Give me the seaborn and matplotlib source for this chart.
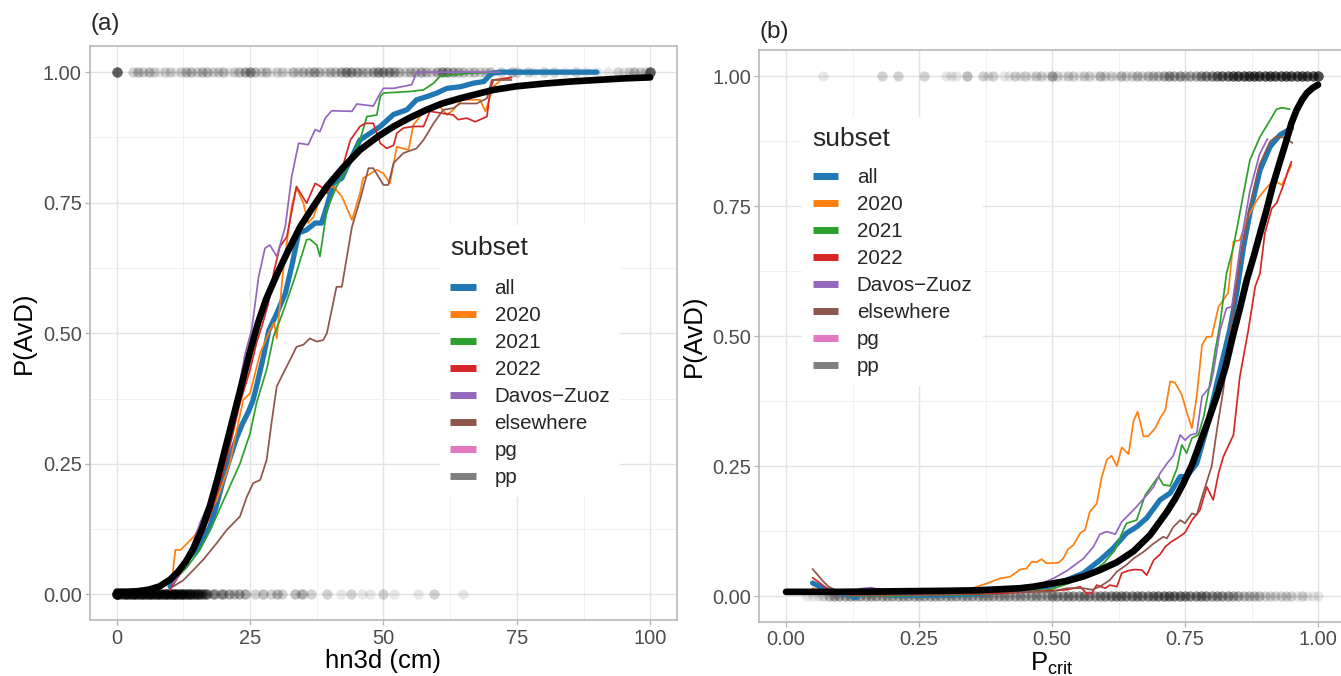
import numpy as np
import pandas as pd
import matplotlib
matplotlib.use("Agg")
import matplotlib.pyplot as plt
from matplotlib.lines import Line2D
from matplotlib.ticker import FixedLocator
import seaborn as sns

# --- legend / colours ---
subsets = ["all", "2020", "2021", "2022", "Davos\u2212Zuoz", "elsewhere", "pg", "pp"]
subset_colors = ["#1f77b4", "#ff7f0e", "#2ca02c", "#d62728", "#9467bd", "#8c564b", "#e377c2", "#7f7f7f"]

# --- panel (a): hn3d (cm) ---
hn_all_x = [10, 10.9, 12, 13.1, 14, 15, 16.2, 17.5, 18.7, 20, 21.2, 22.5, 23.5, 24.7, 25.5, 26.2, 27.5, 28.5,
            30, 31.6, 32.8, 34.1, 35.6, 37.2, 38.4, 39.4, 40.6, 42.2, 43.8, 45.6, 47.5, 49.4, 51.9, 54.4,
            56.2, 58.1, 60, 61.9, 64.4, 66.9, 68.8, 70.3, 72, 80, 90]
hn_all_y = [0.015, 0.034, 0.05, 0.066, 0.075, 0.085, 0.105, 0.13, 0.17, 0.22, 0.26, 0.30, 0.325, 0.35, 0.37,
            0.398, 0.455, 0.505, 0.538, 0.576, 0.628, 0.692, 0.698, 0.711, 0.711, 0.743, 0.787, 0.797, 0.832,
            0.87, 0.883, 0.896, 0.919, 0.928, 0.947, 0.953, 0.96, 0.969, 0.972, 0.979, 0.982, 0.998, 1.0, 1.0, 1.0]

hn_2020_x = [10.5, 11, 12, 14.4, 16.2, 18.75, 21.2, 23.7, 25, 26.9, 28.75, 29.5, 30, 31.2, 32.8, 33.7, 35, 35.9,
             36.9, 38.7, 40.6, 42.2, 44.1, 45.6, 46.2, 48.75, 50, 51.2, 52.5, 54.7, 55.6, 58.1, 60.6, 61.9,
             63.1, 64.7, 68.1, 69.1, 70.6, 72, 74]
hn_2020_y = [0.04, 0.085, 0.085, 0.11, 0.136, 0.18, 0.25, 0.372, 0.385, 0.462, 0.506, 0.52, 0.49, 0.62, 0.743,
             0.778, 0.749, 0.711, 0.723, 0.775, 0.781, 0.762, 0.717, 0.768, 0.797, 0.813, 0.806, 0.787, 0.857,
             0.851, 0.899, 0.931, 0.934, 0.918, 0.928, 0.947, 0.947, 0.925, 0.972, 0.985, 0.99]

hn_2021_x = [10.6, 13.1, 15.6, 18.1, 20.6, 23.1, 25, 26.2, 28.1, 29.4, 30.6, 32, 33.5, 34.4, 35.6, 36.2, 37.5,
             38.1, 39.4, 41.2, 43.1, 45.6, 46.9, 48.75, 49.4, 50, 55, 57.5, 59.4, 60.6, 66.2, 72]
hn_2021_y = [0.025, 0.051, 0.085, 0.136, 0.193, 0.25, 0.308, 0.366, 0.43, 0.494, 0.525, 0.565, 0.61, 0.64, 0.679,
             0.68, 0.669, 0.647, 0.736, 0.781, 0.813, 0.87, 0.915, 0.918, 0.953, 0.96, 0.963, 0.966, 0.979,
             0.992, 0.998, 1.0]

hn_2022_x = [10, 11.9, 13, 15, 17.5, 19.4, 21.2, 23.1, 25, 26.2, 27.2, 28.5, 29.5, 30.6, 31.9, 33.7, 35.6, 37.2,
             38.7, 39.4, 40.6, 42.2, 43.8, 45.6, 46.6, 48.1, 49.4, 50.6, 51.9, 52.5, 53.75, 55.6, 57.5, 58.7,
             61.2, 63.1, 64, 65.6, 67.2, 68.75, 69.4, 70, 70.6, 74]
hn_2022_y = [0.008, 0.04, 0.06, 0.091, 0.15, 0.213, 0.283, 0.366, 0.43, 0.481, 0.513, 0.56, 0.62, 0.666, 0.685,
             0.781, 0.749, 0.787, 0.778, 0.768, 0.80, 0.813, 0.87, 0.896, 0.902, 0.902, 0.864, 0.854, 0.86,
             0.883, 0.893, 0.896, 0.896, 0.925, 0.921, 0.918, 0.909, 0.912, 0.905, 0.912, 0.915, 0.966, 0.985, 0.99]

hn_davos_x = [10.6, 12.5, 14, 15.6, 17.5, 19.4, 21.2, 22.5, 24.1, 25.3, 26.6, 27.8, 28.7, 30, 31.6, 32.8, 34.1,
              35.9, 37.2, 38.1, 39.1, 40.3, 44.1, 45, 48.1, 49.4, 50, 51.9, 55.3, 56.2, 72]
hn_davos_y = [0.021, 0.05, 0.09, 0.136, 0.18, 0.25, 0.315, 0.375, 0.462, 0.506, 0.608, 0.663, 0.669, 0.647,
              0.704, 0.80, 0.864, 0.861, 0.89, 0.886, 0.912, 0.926, 0.925, 0.939, 0.935, 0.96, 0.969, 0.969,
              0.976, 1.0, 1.0]

hn_else_x = [10.6, 12.5, 14.4, 16.2, 18.75, 20.6, 23.1, 24.4, 25.6, 26.9, 28.1, 29.1, 30, 31.2, 32.5, 33.7, 35,
             36.2, 37.5, 38.7, 39.4, 41.2, 42.2, 44.1, 45.6, 47.2, 48.1, 50, 50.9, 51.9, 53.75, 56.2, 57.5,
             59.4, 61.2, 63.1, 64.4, 67.5, 69.4, 70.3, 74]
hn_else_y = [0.015, 0.027, 0.047, 0.066, 0.098, 0.123, 0.149, 0.187, 0.213, 0.219, 0.257, 0.334, 0.398, 0.423,
             0.449, 0.474, 0.478, 0.49, 0.484, 0.487, 0.50, 0.589, 0.589, 0.704, 0.755, 0.816, 0.816, 0.784,
             0.784, 0.826, 0.845, 0.854, 0.87, 0.902, 0.928, 0.931, 0.94, 0.94, 0.95, 0.985, 0.985]

hn_fit_x = [0, 2, 4, 6, 8, 10, 11.5, 13, 14.5, 16, 17.5, 19, 20.5, 22, 23.5, 25, 26.5, 28, 30, 32, 34.4, 37,
            39.4, 42.5, 45.6, 49, 51.9, 55, 58.1, 61, 64.4, 67.5, 70.6, 75, 80, 85, 90, 95, 100]
hn_fit_y = [0.005, 0.005, 0.006, 0.009, 0.015, 0.028, 0.043, 0.063, 0.09, 0.125, 0.17, 0.225, 0.285, 0.345,
            0.405, 0.465, 0.52, 0.565, 0.612, 0.655, 0.704, 0.745, 0.781, 0.818, 0.851, 0.877, 0.896, 0.913,
            0.928, 0.94, 0.95, 0.958, 0.966, 0.973, 0.978, 0.982, 0.985, 0.988, 0.99]

# observed outcomes (x positions and how many overlapping points)
hn_av_x = [0, 3, 4, 5, 6, 7, 8, 9, 10, 11, 12, 13, 14, 15, 16, 17, 18, 19, 20, 21, 22, 23, 24, 25, 26, 27, 28,
           29, 30, 31, 32, 33, 34, 35, 36, 37, 38, 39, 40, 41, 42, 43, 44, 45, 46, 47, 48, 49, 50, 51, 52, 53,
           54, 55, 56, 57, 58, 59, 60, 61, 62, 63, 64, 65, 66, 67, 68, 69, 70, 72, 74, 75, 77, 78, 80, 82, 84,
           86, 88, 90, 92, 94, 95, 96, 97, 98, 99, 100]
hn_av_n = [10, 2, 3, 2, 3, 2, 1, 2, 2, 1, 2, 3, 3, 2, 3, 3, 2, 2, 3, 1, 2, 3, 4, 5, 3, 2, 3,
           1, 2, 2, 1, 3, 2, 3, 3, 4, 3, 2, 3, 3, 4, 5, 5, 4, 3, 3, 4, 5, 5, 5, 4, 3,
           2, 3, 3, 4, 3, 2, 4, 5, 5, 4, 3, 3, 2, 3, 2, 2, 3, 2, 3, 2, 2, 1, 2, 2, 1,
           2, 1, 1, 1, 2, 1, 2, 3, 2, 2, 10]
hn_no_x = [0, 0.5, 1, 1.5, 2, 2.5, 3, 3.5, 4, 4.5, 5, 5.5, 6, 6.5, 7, 7.5, 8, 8.5, 9, 9.5, 10, 10.5, 11, 11.5,
           12, 12.5, 13, 13.5, 14, 14.5, 15, 15.5, 16, 16.5, 17, 18, 18.5, 19.5, 20, 21, 22, 23, 24, 26, 27.5,
           29, 30, 31, 33.5, 34.5, 35, 36.5, 39.5, 42, 44, 46, 47.5, 50, 52, 56.5, 59.5, 65]
hn_no_n = [25, 6, 8, 10, 10, 10, 10, 10, 10, 10, 10, 10, 10, 10, 10, 10, 10, 10, 10, 10, 10, 10, 10, 10,
           10, 9, 9, 9, 8, 8, 8, 7, 7, 6, 5, 4, 3, 3, 4, 4, 3, 4, 4, 2, 3,
           2, 3, 2, 3, 2, 2, 2, 2, 1, 2, 1, 1, 2, 1, 1, 2, 1]

# --- panel (b): P_crit ---
pc_low_x = [0.05, 0.06, 0.07, 0.08, 0.10, 0.12, 0.13, 0.14, 0.16, 0.18, 0.20, 0.25, 0.30, 0.35]

pc_all_x = pc_low_x + [0.402, 0.496, 0.528, 0.559, 0.59, 0.615, 0.64, 0.659, 0.678, 0.703, 0.722, 0.741, 0.753,
                       0.772, 0.79, 0.81, 0.834, 0.847, 0.86, 0.872, 0.891, 0.91, 0.929, 0.95]
pc_all_y = [0.025, 0.02, 0.015, 0.01, 0.005, 0.002, -0.003, 0.005, 0.004, 0.003, 0.002, 0.001, 0.002, 0.004,
            0.008, 0.019, 0.031, 0.044, 0.069, 0.092, 0.121, 0.133, 0.15, 0.185, 0.198, 0.23, 0.23,
            0.255, 0.32, 0.41, 0.512, 0.583, 0.672, 0.737, 0.82, 0.865, 0.888, 0.90]

pc_2020_x = pc_low_x + [0.38, 0.402, 0.421, 0.44, 0.452, 0.462, 0.471, 0.48, 0.49, 0.512, 0.521, 0.53, 0.54, 0.553,
                        0.562, 0.571, 0.584, 0.593, 0.603, 0.612, 0.622, 0.631, 0.644, 0.653, 0.661, 0.672, 0.681,
                        0.694, 0.703, 0.713, 0.722, 0.731, 0.744, 0.753, 0.763, 0.772, 0.782, 0.791, 0.8, 0.803,
                        0.813, 0.831, 0.841, 0.853, 0.866, 0.885, 0.897, 0.916, 0.932, 0.941, 0.95]
pc_2020_y = [0.015, 0.012, 0.01, 0.008, 0.005, 0.003, 0.002, 0.003, 0.004, 0.004, 0.004, 0.005, 0.008, 0.015,
             0.025, 0.034, 0.037, 0.051, 0.053, 0.066, 0.065, 0.071, 0.063, 0.064, 0.072, 0.09, 0.098, 0.121,
             0.127, 0.162, 0.178, 0.227, 0.262, 0.27, 0.25, 0.286, 0.273, 0.336, 0.355, 0.307, 0.308,
             0.323, 0.342, 0.358, 0.413, 0.411, 0.387, 0.355, 0.323, 0.384, 0.483, 0.499, 0.499, 0.512,
             0.557, 0.583, 0.682, 0.685, 0.724, 0.762, 0.778, 0.801, 0.791, 0.81, 0.83]

pc_2021_x = pc_low_x + [0.402, 0.496, 0.559, 0.597, 0.618, 0.634, 0.64, 0.659, 0.675, 0.691, 0.7, 0.709, 0.722,
                        0.735, 0.744, 0.753, 0.763, 0.775, 0.785, 0.797, 0.807, 0.816, 0.828, 0.841, 0.86, 0.872,
                        0.891, 0.91, 0.922, 0.932, 0.947]
pc_2021_y = [0.012, 0.01, 0.008, 0.005, 0.003, 0.001, 0.0, 0.001, 0.001, 0.0, 0.0, 0.001, 0.002, 0.003,
             0.005, 0.012, 0.034, 0.063, 0.088, 0.127, 0.14, 0.146, 0.194, 0.217, 0.23, 0.214, 0.212,
             0.246, 0.291, 0.275, 0.304, 0.31, 0.345, 0.41, 0.474, 0.525, 0.621, 0.672, 0.775, 0.839,
             0.884, 0.916, 0.937, 0.94, 0.937]

pc_2022_x = pc_low_x + [0.402, 0.528, 0.553, 0.565, 0.575, 0.584, 0.6, 0.609, 0.622, 0.631, 0.644, 0.656, 0.669,
                        0.678, 0.691, 0.703, 0.713, 0.725, 0.735, 0.75, 0.763, 0.778, 0.791, 0.803, 0.813, 0.822,
                        0.841, 0.853, 0.869, 0.882, 0.891, 0.9, 0.913, 0.922, 0.935, 0.944, 0.95]
pc_2022_y = [0.035, 0.028, 0.02, 0.012, 0.006, 0.002, 0.001, 0.002, 0.002, 0.001, 0.002, 0.002, 0.003, 0.004,
             0.005, 0.012, 0.018, 0.005, 0.006, 0.021, 0.015, 0.021, 0.018, 0.044, 0.049, 0.051, 0.05,
             0.04, 0.069, 0.08, 0.095, 0.105, 0.111, 0.122, 0.146, 0.165, 0.21, 0.185, 0.236, 0.268,
             0.31, 0.422, 0.512, 0.596, 0.621, 0.698, 0.746, 0.756, 0.791, 0.82, 0.836]

pc_davos_x = pc_low_x + [0.402, 0.465, 0.484, 0.503, 0.53, 0.559, 0.578, 0.59, 0.603, 0.619, 0.631, 0.644, 0.659,
                         0.678, 0.691, 0.703, 0.716, 0.728, 0.741, 0.75, 0.76, 0.772, 0.782, 0.797, 0.803, 0.816,
                         0.828, 0.838, 0.855, 0.872, 0.89, 0.905]
pc_davos_y = [0.008, 0.006, 0.004, 0.003, 0.002, 0.003, 0.008, 0.014, 0.016, 0.012, 0.008, 0.005, 0.006, 0.008,
              0.012, 0.018, 0.026, 0.034, 0.05, 0.072, 0.095, 0.119, 0.124, 0.119, 0.143, 0.156, 0.172,
              0.194, 0.21, 0.236, 0.255, 0.27, 0.31, 0.30, 0.31, 0.313, 0.384, 0.403, 0.429, 0.512,
              0.554, 0.557, 0.68, 0.78, 0.85, 0.88]

pc_else_x = pc_low_x + [0.402, 0.496, 0.528, 0.559, 0.575, 0.59, 0.609, 0.622, 0.64, 0.653, 0.672, 0.691, 0.709,
                        0.716, 0.728, 0.741, 0.75, 0.763, 0.772, 0.782, 0.794, 0.8, 0.81, 0.822, 0.835, 0.85,
                        0.87, 0.89, 0.91, 0.922, 0.938, 0.952]
pc_else_y = [0.052, 0.04, 0.028, 0.018, 0.008, 0.003, 0.002, 0.002, 0.002, 0.002, 0.002, 0.002, 0.003, 0.005,
             0.008, 0.008, 0.015, 0.015, 0.012, 0.018, 0.031, 0.047, 0.06, 0.072, 0.085, 0.101, 0.114,
             0.111, 0.133, 0.146, 0.14, 0.159, 0.156, 0.191, 0.23, 0.249, 0.32, 0.397, 0.512, 0.62,
             0.74, 0.83, 0.875, 0.885, 0.882, 0.872]

pc_fit_x = [0, 0.1, 0.2, 0.3, 0.36, 0.402, 0.44, 0.465, 0.5, 0.528, 0.56, 0.59, 0.622, 0.653, 0.684, 0.716,
            0.732, 0.747, 0.763, 0.778, 0.794, 0.81, 0.826, 0.841, 0.854, 0.866, 0.879, 0.891, 0.904, 0.916,
            0.929, 0.941, 0.95, 0.96, 0.97, 0.979, 0.99, 1.0]
pc_fit_y = [0.008, 0.008, 0.009, 0.01, 0.011, 0.013, 0.015, 0.018, 0.024, 0.029, 0.038, 0.05, 0.065, 0.086,
            0.117, 0.162, 0.188, 0.217, 0.252, 0.294, 0.338, 0.386, 0.44, 0.505, 0.557, 0.608, 0.653, 0.698,
            0.746, 0.794, 0.838, 0.878, 0.91, 0.936, 0.955, 0.968, 0.978, 0.984]

pc_av_x = [0.07, 0.18, 0.21, 0.26, 0.30, 0.31, 0.32, 0.34, 0.37, 0.38, 0.39, 0.41, 0.42, 0.43, 0.44, 0.45, 0.46,
           0.47, 0.48, 0.49, 0.50, 0.51, 0.52, 0.53, 0.54, 0.55, 0.56, 0.57, 0.58, 0.59, 0.60, 0.61, 0.62, 0.63,
           0.64, 0.65, 0.66, 0.67, 0.68, 0.69, 0.70, 0.71, 0.72, 0.73, 0.74, 0.75, 0.76, 0.77, 0.78, 0.79, 0.80,
           0.81, 0.82, 0.83, 0.84, 0.85, 0.86, 0.87, 0.88, 0.89, 0.90, 0.91, 0.92, 0.93, 0.94, 0.95, 0.96, 0.97,
           0.98, 0.99, 1.00]
pc_av_n = [1, 2, 2, 2, 1, 1, 1, 3, 2, 1, 2, 1, 1, 2, 1, 2, 1,
           2, 2, 1, 4, 2, 1, 2, 2, 1, 2, 2, 1, 3, 2, 2, 1, 3,
           2, 2, 3, 2, 3, 3, 3, 4, 5, 4, 5, 3, 4, 4, 5, 6, 6,
           7, 8, 8, 9, 10, 10, 10, 10, 10, 10, 10, 10, 10, 10, 10, 10, 10,
           10, 10, 12]
pc_no_x = [0.04, 0.05, 0.06, 0.07, 0.08, 0.09, 0.10, 0.11, 0.12, 0.13, 0.14, 0.15, 0.16, 0.17, 0.18, 0.19,
           0.20, 0.21, 0.22, 0.23, 0.24, 0.25, 0.26, 0.27, 0.28, 0.29, 0.30, 0.31, 0.32, 0.33, 0.34, 0.35,
           0.36, 0.37, 0.38, 0.39, 0.40, 0.41, 0.42, 0.43, 0.44, 0.45, 0.46, 0.47, 0.48, 0.49, 0.50, 0.51,
           0.52, 0.53, 0.54, 0.55, 0.56, 0.57, 0.58, 0.59, 0.60, 0.61, 0.62, 0.63, 0.64, 0.65, 0.66, 0.67,
           0.68, 0.69, 0.70, 0.71, 0.72, 0.73, 0.74, 0.75, 0.76, 0.77, 0.78, 0.79, 0.80, 0.81, 0.82, 0.83,
           0.84, 0.85, 0.86, 0.87, 0.88, 0.89, 0.90, 0.91, 0.92, 0.93, 0.94, 0.95, 0.96, 0.97, 0.98, 0.99, 1.00]
pc_no_n = [1, 1, 1, 2, 3, 4, 4, 4, 4, 4, 4, 4, 4, 4, 4, 4,
           4, 4, 4, 4, 4, 4, 4, 4, 4, 4, 4, 4, 4, 4, 4, 4,
           4, 4, 4, 4, 4, 4, 4, 4, 4, 4, 4, 4, 4, 4, 5, 5,
           5, 5, 5, 5, 5, 5, 5, 5, 6, 6, 6, 6, 6, 6, 6, 6,
           6, 6, 7, 7, 7, 7, 7, 6, 6, 6, 6, 6, 5, 5, 5, 5,
           4, 4, 3, 3, 3, 3, 2, 2, 2, 2, 2, 2, 1, 2, 1, 1, 1]


def curve_frame(series):
    parts = [pd.DataFrame({"x": xs, "y": ys, "subset": name}) for name, xs, ys in series]
    return pd.concat(parts, ignore_index=True)


def point_frame(av_x, av_n, no_x, no_n):
    xs = np.concatenate([np.repeat(av_x, av_n), np.repeat(no_x, no_n)])
    ys = np.concatenate([np.ones(int(np.sum(av_n))), np.zeros(int(np.sum(no_n)))])
    return pd.DataFrame({"x": xs, "y": ys})


palette = dict(zip(subsets, subset_colors))
grid_col = "#E3E3E3"
border_col = "#B3B3B3"
text_grey = "#4D4D4D"

sns.set_theme(style="white")
plt.rcParams["font.family"] = ["Liberation Sans", "DejaVu Sans"]
plt.rcParams["mathtext.default"] = "regular"

fig = plt.figure(figsize=(13.41, 6.76), dpi=100)
ax_a = fig.add_axes([0.0671, 0.0822, 0.4377, 0.8497])
ax_b = fig.add_axes([0.5663, 0.0799, 0.4364, 0.8454])


def draw_panel(ax, curves, pts, fit_x, fit_y):
    sns.scatterplot(data=pts, x="x", y="y", color="black", alpha=0.09, s=55, linewidth=0,
                    legend=False, ax=ax, zorder=2)
    sns.lineplot(data=curves[curves["subset"] == "all"], x="x", y="y", color=palette["all"],
                 linewidth=3.8, estimator=None, sort=False, legend=False, ax=ax, zorder=3)
    thin = curves[curves["subset"] != "all"]
    sns.lineplot(data=thin, x="x", y="y", hue="subset", hue_order=subsets[1:], palette=palette,
                 linewidth=1.25, estimator=None, sort=False, legend=False, ax=ax, zorder=4)
    sns.lineplot(x=fit_x, y=fit_y, color="black", linewidth=4.8, legend=False, ax=ax, zorder=5)


def style_axes(ax, major, minor, labels, lim):
    ax.set_xlim(lim)
    ax.set_ylim(-0.05, 1.05)
    ax.xaxis.set_major_locator(FixedLocator(major))
    ax.xaxis.set_minor_locator(FixedLocator(minor))
    ax.set_xticklabels(labels)
    ax.yaxis.set_major_locator(FixedLocator([0, 0.25, 0.5, 0.75, 1.0]))
    ax.yaxis.set_minor_locator(FixedLocator([0.125, 0.375, 0.625, 0.875]))
    ax.set_yticklabels(["0.00", "0.25", "0.50", "0.75", "1.00"])
    ax.grid(which="major", color=grid_col, linewidth=1.0, zorder=0)
    ax.grid(which="minor", color="#EEEEEE", linewidth=0.6, zorder=0)
    ax.set_axisbelow(True)
    for sp in ax.spines.values():
        sp.set_color(border_col)
        sp.set_linewidth(1.1)
    ax.tick_params(which="major", length=3.5, width=0.9, color=border_col, pad=2.5,
                   labelsize=14.4, labelcolor=text_grey, bottom=True, left=True)
    ax.tick_params(which="minor", length=0)


curves_a = curve_frame([("all", hn_all_x, hn_all_y), ("2020", hn_2020_x, hn_2020_y),
                        ("2021", hn_2021_x, hn_2021_y), ("2022", hn_2022_x, hn_2022_y),
                        (subsets[4], hn_davos_x, hn_davos_y), ("elsewhere", hn_else_x, hn_else_y)])
curves_b = curve_frame([("all", pc_all_x, pc_all_y), ("2020", pc_2020_x, pc_2020_y),
                        ("2021", pc_2021_x, pc_2021_y), ("2022", pc_2022_x, pc_2022_y),
                        (subsets[4], pc_davos_x, pc_davos_y), ("elsewhere", pc_else_x, pc_else_y)])

draw_panel(ax_a, curves_a, point_frame(hn_av_x, hn_av_n, hn_no_x, hn_no_n), hn_fit_x, hn_fit_y)
draw_panel(ax_b, curves_b, point_frame(pc_av_x, pc_av_n, pc_no_x, pc_no_n), pc_fit_x, pc_fit_y)

style_axes(ax_a, [0, 25, 50, 75, 100], [12.5, 37.5, 62.5, 87.5], ["0", "25", "50", "75", "100"], (-5, 105))
style_axes(ax_b, [0, 0.25, 0.5, 0.75, 1.0], [0.125, 0.375, 0.625, 0.875],
           ["0.00", "0.25", "0.50", "0.75", "1.00"], (-0.05, 1.05))

ax_a.set_xlabel("hn3d (cm)", fontsize=18.5, color="black")
ax_b.set_xlabel(r"P$_{crit}$", fontsize=18.5, color="black")
for ax in (ax_a, ax_b):
    ax.set_ylabel("P(AvD)", fontsize=18.5, color="black")
    ax.yaxis.set_label_coords(-0.092, 0.5)
    ax.xaxis.set_label_coords(0.5, -0.05)

fig.text(0.0675, 0.964, "(a)", fontsize=17.5, ha="left", va="center")
fig.text(0.5665, 0.952, "(b)", fontsize=17.5, ha="left", va="center")

handles = [Line2D([], [], color=c, linewidth=5, solid_capstyle="butt") for c in subset_colors]
for ax, anchor, gap in ((ax_a, (0.3205, 0.682), 14), (ax_b, (0.5906, 0.842), 12)):
    leg = ax.legend(handles, subsets, title="subset", loc="upper left", bbox_to_anchor=anchor,
                    bbox_transform=fig.transFigure, fontsize=14.8, title_fontsize=19,
                    frameon=True, facecolor="white", edgecolor="none", framealpha=1, fancybox=False,
                    handlelength=1.25, handletextpad=0.9, labelspacing=0.39, borderpad=0.5,
                    alignment="left")
    leg._legend_box.sep = gap
    leg.set_zorder(10)

fig.savefig("out.png", dpi=100)
